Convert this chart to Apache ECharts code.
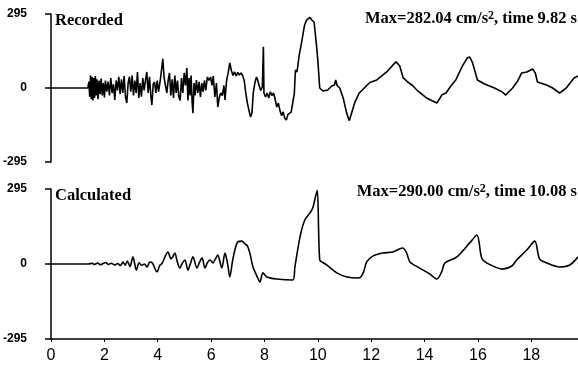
<!DOCTYPE html>
<html>
<head>
<meta charset="utf-8">
<script src="https://cdn.jsdelivr.net/npm/echarts@6/dist/echarts.min.js"></script>
<style>html,body{margin:0;padding:0;background:#fff}#c{width:578px;height:367px}</style>
</head>
<body>
<div id="c"></div>
<script>
// Time (s) and acceleration (cm/s^2)
const recordedTime = [0,1.38,1.42,1.45,1.48,1.51,1.54,1.57,1.60,1.63,1.66,1.69,1.72,1.76,1.80,1.84,1.88,1.92,1.96,2.00,2.04,2.09,2.14,2.19,2.24,2.29,2.34,2.39,2.44,2.49,2.54,2.59,2.64,2.69,2.74,2.79,2.84,2.89,2.94,2.99,3.04,3.09,3.14,3.19,3.24,3.29,3.34,3.39,3.44,3.49,3.54,3.59,3.64,3.69,3.74,3.78,3.83,3.88,3.93,3.98,4.03,4.08,4.13,4.19,4.24,4.29,4.34,4.39,4.44,4.49,4.54,4.59,4.64,4.69,4.74,4.79,4.84,4.89,4.94,4.99,5.04,5.09,5.13,5.17,5.21,5.25,5.29,5.32,5.36,5.40,5.45,5.50,5.55,5.60,5.65,5.70,5.75,5.80,5.86,5.92,5.98,6.03,6.08,6.14,6.20,6.25,6.30,6.36,6.42,6.48,6.52,6.58,6.64,6.70,6.76,6.82,6.88,6.94,7.00,7.06,7.12,7.18,7.24,7.30,7.36,7.42,7.48,7.53,7.58,7.64,7.70,7.75,7.80,7.86,7.92,7.94,7.96,7.98,8.04,8.10,8.16,8.22,8.28,8.34,8.40,8.46,8.52,8.58,8.64,8.70,8.76,8.82,8.88,8.94,9.00,9.06,9.12,9.16,9.22,9.30,9.38,9.50,9.58,9.70,9.78,9.86,9.95,10.00,10.07,10.19,10.37,10.52,10.62,10.67,10.72,10.82,10.95,11.08,11.18,11.28,11.39,11.55,11.76,11.95,12.21,12.58,12.80,12.93,13.07,13.20,13.37,13.55,13.71,13.85,14.08,14.30,14.46,14.58,14.64,14.80,15.00,15.17,15.40,15.60,15.69,15.80,15.92,15.98,16.25,16.62,16.90,17.04,17.30,17.50,17.64,17.83,18.05,18.15,18.23,18.57,18.80,19.06,19.31,19.60,19.75];
const recordedAccel = [0,0,25,-35,50,-45,45,-50,40,-40,48,-30,35,-45,30,-25,38,-30,20,-38,30,-15,25,-30,40,-20,15,-48,30,-10,45,-25,35,-20,48,-35,-60,20,45,-15,50,-30,30,-20,64,-40,20,-35,40,-10,30,64,-20,45,-30,-68,15,24,-20,30,-15,20,60,116,40,10,-20,30,60,-30,35,-40,50,-20,30,-35,-50,40,-20,60,10,80,-50,40,-30,50,-60,-100,20,-30,32,-20,25,-36,20,-15,30,-10,44,30,44,10,48,-36,20,-76,-40,-20,-30,10,-48,30,60,100,70,50,64,48,62,52,60,50,30,-20,-60,-90,-116,-100,-20,20,44,30,10,-10,4,0,164,-20,-36,-20,-40,-15,-30,-20,-45,-76,-60,-90,-110,-95,-120,-128,-105,-110,-96,-100,-20,72,64,130,175,250,271,282,270,262,170,110,0,-12,-8,8,12,32,10,0,-40,-100,-130,-95,-56,-20,2,22,32,64,90,104,88,40,24,10,-8,-20,-40,-52,-60,-40,-28,-20,10,32,84,120,124,100,55,32,16,0,-15,-28,0,30,60,64,76,60,24,12,0,-20,0,40,48];

const calculatedTime = [0,1.40,1.55,1.62,1.75,1.85,1.95,2.05,2.15,2.25,2.40,2.50,2.60,2.70,2.78,2.86,2.96,3.07,3.20,3.30,3.40,3.50,3.60,3.70,3.80,3.97,4.08,4.16,4.28,4.38,4.50,4.56,4.64,4.73,4.83,4.93,5.02,5.13,5.22,5.32,5.47,5.56,5.66,5.77,5.86,5.96,6.07,6.16,6.25,6.40,6.52,6.62,6.70,6.80,6.89,7.00,7.15,7.28,7.36,7.46,7.57,7.75,7.83,7.94,8.09,8.46,9.06,9.14,9.33,9.51,9.70,9.81,9.90,9.98,10.07,10.20,10.34,10.71,11.09,11.50,11.62,11.72,11.83,12.06,12.43,12.81,13.18,13.33,13.45,13.82,14.19,14.46,14.64,14.76,15.21,15.69,15.96,16.14,16.33,16.93,17.27,17.45,17.83,18.13,18.31,18.58,19.06,19.44,19.75];
const calculatedAccel = [0,0,3,-2,4,-3,2,6,-2,3,-4,2,-6,8,-5,12,-10,28,-24,5,-5,0,-12,8,4,-31,-5,2,30,47,20,28,43,10,-16,5,16,-24,0,28,-16,5,24,-16,5,16,4,20,35,-16,43,0,-51,10,55,87,90,78,71,40,-12,-55,-71,-35,-51,-59,-63,-12,106,173,200,220,260,290,16,5,-4,-35,-51,-55,-50,-30,8,31,43,47,63,43,8,-16,-39,-59,-31,4,28,83,114,24,4,-20,-8,16,55,90,20,4,-12,-4,28];

const xTicks = [0,2,4,6,8,10,12,14,16,18];
const yTicks = [-295,0,295];
const recordedLabel = 'Max=282.04 cm/s{s|2}, time 9.82 s';
const calculatedLabel = 'Max=290.00 cm/s{s|2}, time 10.08 s';

const pairs = (t, v) => t.map((x, i) => [x, v[i]]);
const black = '#000';
const serif = 'Liberation Serif';
const sans = 'Liberation Sans';

function yAxisCfg(idx) {
  return {
    gridIndex: idx, type: 'value', min: yTicks[0], max: yTicks[2], interval: 295,
    axisLine: { show: true, onZero: false, lineStyle: { color: black, width: 1.5 } },
    axisTick: { show: true, length: 6, lineStyle: { color: black, width: 1.5 } },
    axisLabel: { color: black, fontSize: 12, fontWeight: 'bold', fontFamily: sans, margin: 24 },
    splitLine: { show: false }
  };
}
const titleStyle = (size) => ({
  fontFamily: serif, fontWeight: 'bold', fontSize: size, color: black,
  rich: { s: { fontFamily: serif, fontWeight: 'bold', fontSize: 12, color: black, verticalAlign: 'top', padding: [0, 0, 5, 0] } }
});

const chart = echarts.init(document.getElementById('c'), null, { renderer: 'canvas' });
chart.setOption({
  animation: false,
  backgroundColor: '#fff',
  title: [
    { text: 'Recorded', left: 55, top: 12, padding: 0, textStyle: titleStyle(16.5) },
    { text: recordedLabel, right: 1, top: 10, padding: 0, textStyle: titleStyle(16.5) },
    { text: 'Calculated', left: 55, top: 187, padding: 0, textStyle: titleStyle(16.5) },
    { text: calculatedLabel, right: 1, top: 183, padding: 0, textStyle: titleStyle(16.5) }
  ],
  grid: [
    { left: 51, right: 0, top: 14, height: 148 },
    { left: 51, right: 0, top: 189, height: 150 }
  ],
  xAxis: [
    { gridIndex: 0, type: 'value', min: 0, max: 19.75, show: false },
    { gridIndex: 1, type: 'value', min: 0, max: 19.75, interval: 2,
      axisLine: { show: true, onZero: false, lineStyle: { color: black, width: 1.5 } },
      axisTick: { show: true, length: 3, lineStyle: { color: black } },
      axisLabel: { color: black, fontSize: 16, fontFamily: sans, margin: 9, showMaxLabel: false,
        formatter: v => xTicks.indexOf(v) >= 0 ? String(v) : '' },
      splitLine: { show: false } }
  ],
  yAxis: [yAxisCfg(0), yAxisCfg(1)],
  series: [
    { type: 'line', xAxisIndex: 0, yAxisIndex: 0, data: pairs(recordedTime, recordedAccel),
      showSymbol: false, smooth: false, lineStyle: { color: black, width: 1.6 } },
    { type: 'line', xAxisIndex: 1, yAxisIndex: 1, data: pairs(calculatedTime, calculatedAccel),
      showSymbol: false, smooth: 0.3, lineStyle: { color: black, width: 1.6 } }
  ]
});
</script>
</body>
</html>
